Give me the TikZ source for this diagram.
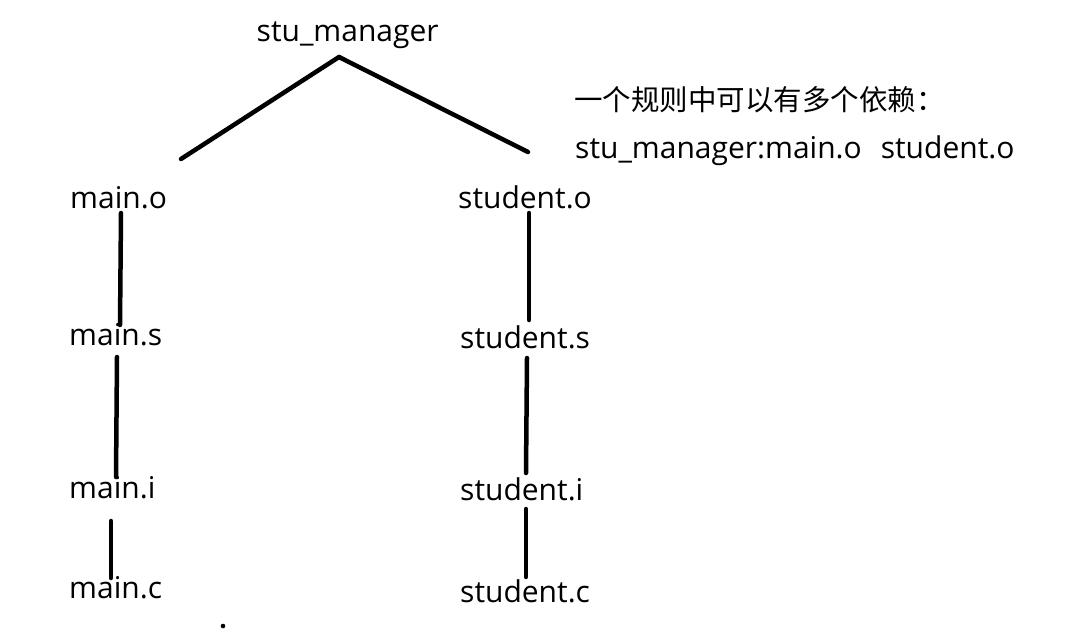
\documentclass[tikz,border=0pt]{standalone}
\usepackage{fontspec}
\setmainfont{Open Sans}
\newfontfamily\cjk{Noto Sans CJK SC}
\usetikzlibrary{calc}
\tikzset{
  lbl/.style={inner sep=0pt, anchor=base west, font=\fontsize{30}{36}\selectfont},
  conn/.style={line width=4.5pt, line cap=round, black}
}
\begin{document}
\begin{tikzpicture}[x=1pt,y=-1pt]
\useasboundingbox[fill=white] (0,0) rectangle (1075,629);
% nodes
\node[lbl] (root) at (256.5,41) {stu\_manager};
\node[lbl] (mo) at (70,208) {main.o};
\node[lbl] (ms) at (69,345) {main.s};
\node[lbl] (mi) at (69,498) {main.i};
\node[lbl] (mc) at (69,598) {main.c};
\node[lbl] (so) at (458,208) {student.o};
\node[lbl] (ss) at (460,348) {student.s};
\node[lbl] (si) at (460,500) {student.i};
\node[lbl] (sc) at (460,602) {student.c};
\node[lbl, font=\fontsize{28.5}{34}\selectfont] (note1) at (574,110) {\cjk 一个规则中可以有多个依赖：};
\node[lbl] (note2) at (575,158) {stu\_manager:main.o\hspace{19pt}student.o};
% connectors
\draw[conn] ($(root.base west)+(82.5,16)$) -- ($(mo.base west)+(111,-49)$);
\draw[conn] ($(root.base west)+(82.5,16)$) -- ($(so.base west)+(70,-56)$);
\draw[conn] ($(mo.base west)+(51,5)$) -- ($(ms.base west)+(51,-20)$);
\draw[conn] ($(ms.base west)+(48,12)$) -- ($(mi.base west)+(47,-21)$);
\draw[conn] ($(mi.base west)+(42,23)$) -- ($(mc.base west)+(42,-20)$);
\draw[conn] ($(so.base west)+(71,5)$) -- ($(ss.base west)+(69,-28)$);
\draw[conn] ($(ss.base west)+(67,10)$) -- ($(si.base west)+(66,-27)$);
\draw[conn] ($(si.base west)+(66,9)$) -- ($(sc.base west)+(66,-25)$);
% stray dot
\fill ($(mc.base west)+(154,28)$) circle (2.3);
\end{tikzpicture}
\end{document}
